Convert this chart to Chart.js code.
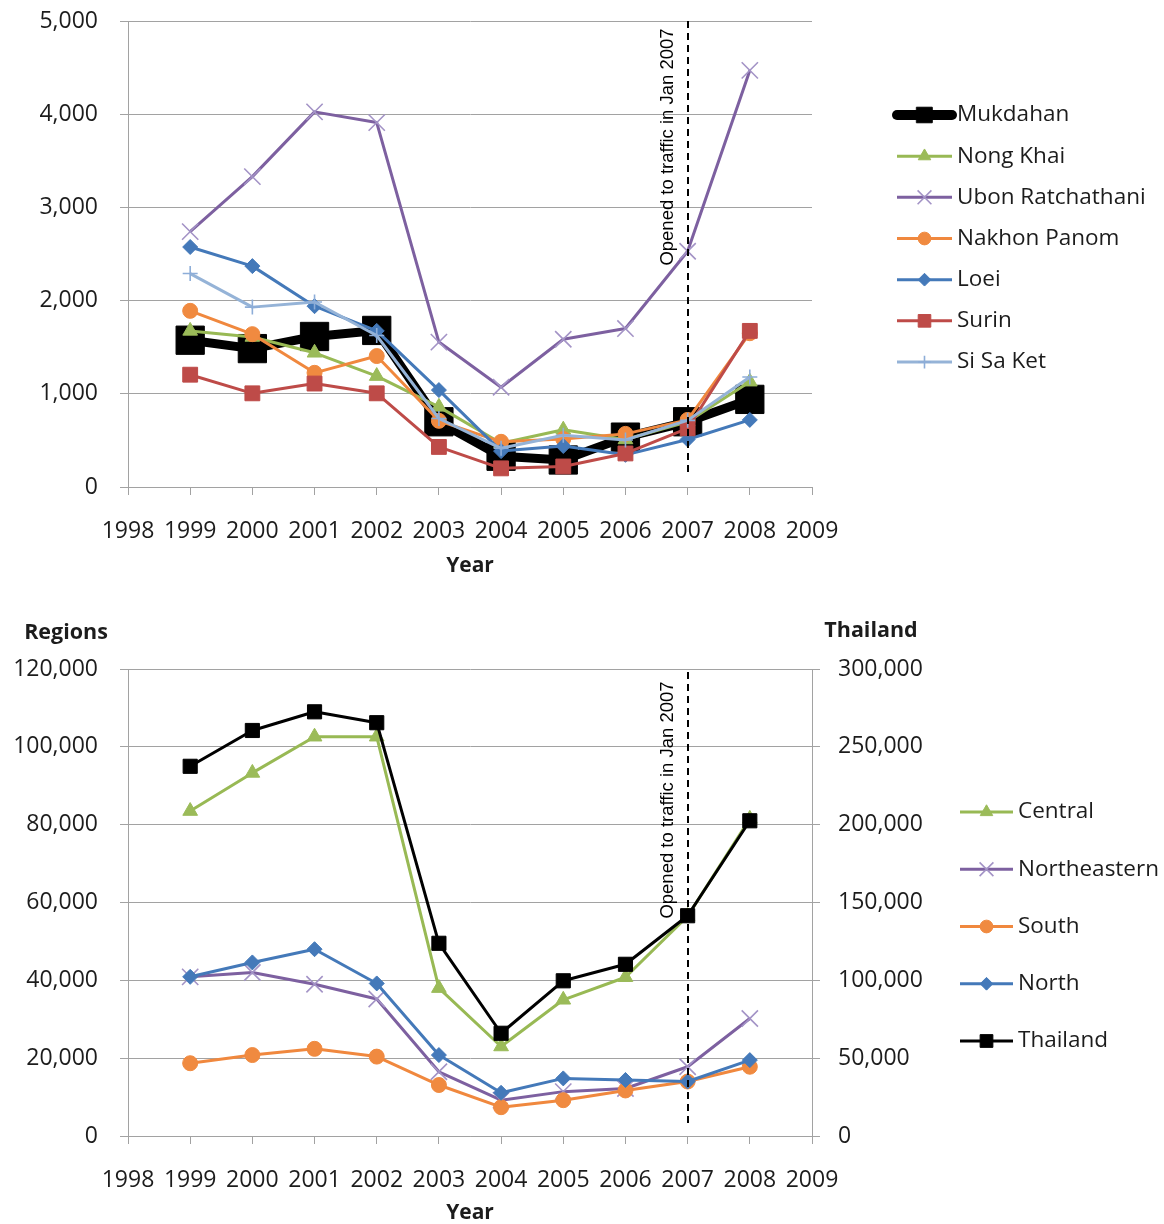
<!DOCTYPE html>
<html>
<head>
<meta charset="utf-8">
<title>Border trade by province and region, 1999-2008</title>
<script src="https://cdn.jsdelivr.net/npm/chart.js@4/dist/chart.umd.min.js"></script>
<style>
  html, body { margin: 0; padding: 0; background: #ffffff; }
  #wrap { position: relative; width: 1164px; height: 1224px; overflow: hidden; }
  #provinces { position: absolute; left: 0; top: 0; }
  #regions { position: absolute; left: 0; top: 600px; }
</style>
</head>
<body>
<div id="wrap">
  <canvas id="provinces" width="1164" height="600"></canvas>
  <canvas id="regions" width="1164" height="624"></canvas>
</div>
<script>
// ---- data -------------------------------------------------------------
const years = [1999, 2000, 2001, 2002, 2003, 2004, 2005, 2006, 2007, 2008];
const yearTicks = ['1998', '1999', '2000', '2001', '2002', '2003', '2004', '2005', '2006', '2007', '2008', '2009'];

// provinces (upper chart)
const mukdahan     = [1575, 1485, 1615, 1680, 700, 330, 290, 535, 700, 940];
const nongKhai     = [1675, 1610, 1440, 1190, 860, 470, 615, 510, 700, 1130];
const ubon         = [2740, 3330, 4025, 3910, 1555, 1070, 1585, 1700, 2530, 4470];
const nakhonPanom  = [1890, 1640, 1225, 1405, 710, 485, 515, 570, 720, 1650];
const loei         = [2575, 2370, 1940, 1675, 1040, 385, 440, 345, 510, 720];
const surin        = [1205, 1005, 1110, 1005, 430, 200, 220, 360, 630, 1675];
const siSaKet      = [2290, 1930, 1985, 1625, 735, 415, 555, 505, 715, 1180];
const provinceTicks = [0, 1000, 2000, 3000, 4000, 5000];

// regions (lower chart, left axis) and the whole country (right axis)
const central      = [83500, 93300, 102600, 102600, 38000, 23000, 35000, 40800, 56500, 81500];
const northeastern = [40900, 42000, 39000, 35200, 16500, 9200, 11400, 12200, 17800, 30200];
const south        = [18700, 20800, 22400, 20400, 13100, 7400, 9200, 11700, 14000, 17800];
const north        = [40900, 44600, 48000, 39200, 20800, 11100, 14800, 14400, 14000, 19500];
const thailand     = [237500, 260500, 272500, 265500, 123800, 66000, 99700, 110300, 141500, 202500];
const regionTicks   = [0, 20000, 40000, 60000, 80000, 100000, 120000];
const countryTicks  = [0, 50000, 100000, 150000, 200000, 250000, 300000];

const openedYear = 2007;
const openedNote = 'Opened to traffic in Jan 2007';

// ---- styling ----------------------------------------------------------
const FONT = '"Open Sans", "Noto Sans", sans-serif';
const TEXT = '#1c1c1c';
const GRID = '#a2a2a2';

const C = {
  black:  { line: '#000000', mark: '#000000' },
  green:  { line: '#98B954', mark: '#9BBB59' },
  purple: { line: '#7D60A0', mark: '#A393C6' },
  orange: { line: '#F0883E', mark: '#F08A40' },
  blue:   { line: '#4479B9', mark: '#4479B9' },
  red:    { line: '#BE4B48', mark: '#BE4B48' },
  sky:    { line: '#95B3D7', mark: '#8DADD8' }
};

const pts = (vals) => vals.map((v, i) => ({ x: years[i], y: v }));

function series(label, vals, col, style, radius, opts = {}) {
  const stroked = style === 'crossRot' || style === 'cross';
  return Object.assign({
    label,
    data: pts(vals),
    borderColor: col.line,
    backgroundColor: col.mark,
    borderWidth: 3,
    tension: 0,
    pointStyle: style,
    pointRadius: radius,
    pointHoverRadius: radius,
    pointBackgroundColor: col.mark,
    pointBorderColor: col.mark,
    pointBorderWidth: stroked ? 1.6 : 1,
    legendLineWidth: 3,
    legendRadius: Math.max(5, radius * 0.85)
  }, opts);
}

// vertical dashed marker with a rotated note beside it
const openingMarker = {
  id: 'openingMarker',
  afterDatasetsDraw(chart, args, o) {
    const { ctx, chartArea } = chart;
    const x = Math.round(chart.scales.x.getPixelForValue(o.year));
    ctx.save();
    ctx.strokeStyle = '#000';
    ctx.lineWidth = 2;
    ctx.setLineDash([7, 5]);
    ctx.beginPath();
    ctx.moveTo(x, chartArea.top + o.topGap);
    ctx.lineTo(x, chartArea.bottom - o.bottomGap);
    ctx.stroke();
    ctx.setLineDash([]);
    ctx.translate(x - 20, o.textY);
    ctx.rotate(-Math.PI / 2);
    ctx.font = '18.5px "Liberation Sans", Arial, sans-serif';
    ctx.fillStyle = '#000';
    ctx.textAlign = 'center';
    ctx.textBaseline = 'middle';
    ctx.fillText(o.text, 0, 0);
    ctx.restore();
  }
};

// legend drawn as a column of line + marker samples
const sideLegend = {
  id: 'sideLegend',
  afterDraw(chart, args, o) {
    const { ctx } = chart;
    chart.data.datasets.forEach((ds, i) => {
      const y = o.y0 + i * o.gap;
      ctx.save();
      ctx.strokeStyle = ds.borderColor;
      ctx.lineWidth = ds.legendLineWidth;
      ctx.lineCap = ds.legendCap || 'butt';
      ctx.beginPath();
      ctx.moveTo(o.x0, y);
      ctx.lineTo(o.x1, y);
      ctx.stroke();
      ctx.fillStyle = ds.pointBackgroundColor;
      ctx.strokeStyle = ds.pointBorderColor;
      ctx.lineWidth = ds.pointBorderWidth;
      Chart.helpers.drawPoint(ctx, {
        pointStyle: ds.pointStyle, rotation: 0,
        radius: ds.legendRadius, borderWidth: ds.pointBorderWidth
      }, (o.x0 + o.x1) / 2, y);
      ctx.fillStyle = TEXT;
      ctx.font = o.size + 'px ' + FONT;
      ctx.textAlign = 'left';
      ctx.textBaseline = 'middle';
      ctx.fillText(ds.label, o.textX, y);
      ctx.restore();
    });
  }
};

// horizontal captions above the two value axes
const axisCaptions = {
  id: 'axisCaptions',
  afterDraw(chart, args, o) {
    const { ctx } = chart;
    ctx.save();
    ctx.fillStyle = TEXT;
    ctx.font = 'bold 21.5px ' + FONT;
    ctx.textAlign = 'center';
    ctx.textBaseline = 'middle';
    o.items.forEach(it => ctx.fillText(it.text, it.x, it.y));
    ctx.restore();
  }
};

const fmt = (v) => Number(v).toLocaleString('en-US');
const yearLabel = (v) => yearTicks[yearTicks.indexOf(String(v))] ?? '';

function xScale(height, titlePad, titleLH) {
  return {
    type: 'linear', min: 1998, max: 2009,
    afterBuildTicks: (s) => { s.ticks = yearTicks.map(t => ({ value: Number(t) })); },
    ticks: { callback: yearLabel, autoSkip: false, maxRotation: 0, padding: 23,
             color: TEXT, font: { family: FONT, size: 23 } },
    grid: { drawOnChartArea: false, drawTicks: true, tickLength: 8, color: GRID, lineWidth: 1 },
    border: { display: true, color: GRID, width: 1 },
    title: { display: true, text: 'Year', color: TEXT,
             font: { family: FONT, size: 21, weight: 'bold', lineHeight: titleLH },
             padding: { top: 0, bottom: titlePad } },
    afterFit: (s) => { s.height = height; s.paddingLeft = 0; s.paddingRight = 0; }
  };
}

function yScale(position, values, onArea, width) {
  return {
    type: 'linear', position,
    min: values[0], max: values[values.length - 1],
    afterBuildTicks: (s) => { s.ticks = values.map(v => ({ value: v })); },
    ticks: { callback: fmt, padding: position === 'left' ? 22 : 18,
             color: TEXT, font: { family: FONT, size: 23 } },
    grid: { drawOnChartArea: onArea, drawTicks: true, tickLength: 8, color: GRID, lineWidth: 1 },
    border: { display: true, color: GRID, width: 1 },
    afterFit: (s) => { s.width = width; s.paddingTop = 0; s.paddingBottom = 0; }
  };
}

const common = {
  responsive: false,
  animation: false,
  devicePixelRatio: 1,
  events: [],
  elements: { line: { borderJoinStyle: 'round' } }
};

// ---- upper chart: provinces ------------------------------------------
const provinceSets = [
  series('Mukdahan', mukdahan, C.black, 'rect', 20,
         { borderWidth: 9, legendLineWidth: 10, legendCap: 'round', legendRadius: 11 }),
  series('Nong Khai', nongKhai, C.green, 'triangle', 8.5),
  series('Ubon Ratchathani', ubon, C.purple, 'crossRot', 11.5),
  series('Nakhon Panom', nakhonPanom, C.orange, 'circle', 7.5),
  series('Loei', loei, C.blue, 'rectRot', 7.5),
  series('Surin', surin, C.red, 'rect', 10.5),
  series('Si Sa Ket', siSaKet, C.sky, 'cross', 7.5)
];
provinceSets.forEach((d, i, a) => { d.order = a.length - i; });

new Chart(document.getElementById('provinces'), {
  type: 'line',
  data: { datasets: provinceSets },
  options: Object.assign({}, common, {
    layout: { padding: { left: 0, right: 352, top: 20, bottom: 0 } },
    scales: { x: xScale(113, 21, 1.2), y: yScale('left', provinceTicks, true, 128) },
    plugins: {
      legend: { display: false }, tooltip: { enabled: false },
      openingMarker: { year: openedYear, text: openedNote, topGap: 0, bottomGap: 12, textY: 147 },
      sideLegend: { x0: 897, x1: 952, textX: 957, y0: 115, gap: 41.17, size: 22.5 }
    }
  }),
  plugins: [openingMarker, sideLegend]
});

// ---- lower chart: regions and the whole country ------------------------
const regionSets = [
  series('Central', central, C.green, 'triangle', 8.5),
  series('Northeastern', northeastern, C.purple, 'crossRot', 11.5),
  series('South', south, C.orange, 'circle', 7.5),
  series('North', north, C.blue, 'rectRot', 7.5),
  series('Thailand', thailand, C.black, 'rect', 10, { yAxisID: 'y2', legendRadius: 9 })
];
regionSets.forEach((d, i, a) => { d.order = a.length - i; });

new Chart(document.getElementById('regions'), {
  type: 'line',
  data: { datasets: regionSets },
  options: Object.assign({}, common, {
    layout: { padding: { left: 0, right: 222, top: 69, bottom: 0 } },
    scales: {
      x: xScale(88, 0, 1.0),
      y: yScale('left', regionTicks, true, 128),
      y2: yScale('right', countryTicks, false, 130)
    },
    plugins: {
      legend: { display: false }, tooltip: { enabled: false },
      openingMarker: { year: openedYear, text: openedNote, topGap: 3, bottomGap: 8, textY: 200 },
      sideLegend: { x0: 960, x1: 1013, textX: 1018, y0: 212, gap: 57.25, size: 22.5 },
      axisCaptions: { items: [ { text: 'Regions', x: 66, y: 33 }, { text: 'Thailand', x: 871, y: 31 } ] }
    }
  }),
  plugins: [openingMarker, sideLegend, axisCaptions]
});
</script>
</body>
</html>
